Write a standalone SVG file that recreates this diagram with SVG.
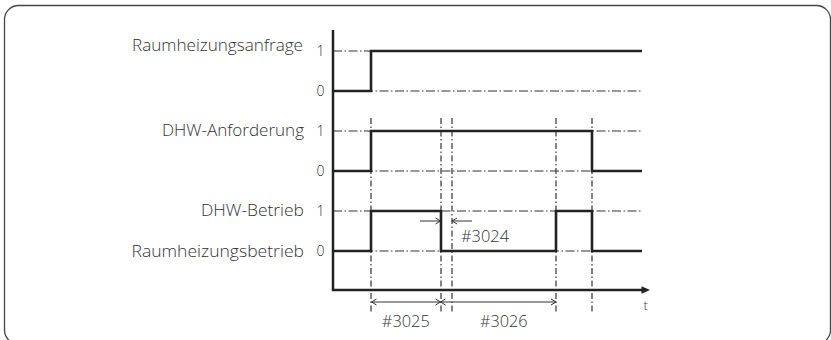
<svg xmlns="http://www.w3.org/2000/svg" width="831" height="340" viewBox="0 0 831 340">
  <defs>
    <marker id="chev" viewBox="-6 -4 8 8" markerWidth="8" markerHeight="8" refX="0" refY="0" orient="auto-start-reverse" markerUnits="userSpaceOnUse">
      <path d="M-5,-3 L0,0 L-5,3" fill="none" stroke="#333" stroke-width="1"/>
    </marker>
  </defs>
  <style>
    .frame { fill: #fff; stroke: #444; stroke-width: 1.3; }
    .lbl { font-family: "Open Sans", "Liberation Sans", Arial, sans-serif; font-size: 16px; font-weight: 300; fill: #333; }
    .dig { font-family: "Open Sans", "Liberation Sans", Arial, sans-serif; font-size: 14px; font-weight: 300; fill: #333; text-anchor: middle; }
    .grid { stroke: #333; stroke-width: 1.1; fill: none; stroke-dasharray: 9 2.5 1.5 2.5; }
    .vgrid { stroke: #333; stroke-width: 1.2; fill: none; stroke-dasharray: 6 2.5 1.5 2.5; }
    .sig { stroke: #222; stroke-width: 2.6; fill: none; stroke-linejoin: miter; }
    .axis { stroke: #222; stroke-width: 2.5; fill: none; }
    .dim { stroke: #333; stroke-width: 1; fill: none; }
  </style>

  <rect class="frame" x="4.5" y="5.5" width="826" height="338.5" rx="14" ry="14"/>

  <g id="grid">
    <path class="grid" d="M333,51 H642 M333,91 H642 M333,131 H642 M333,171 H642 M333,211 H642 M333,251 H642"/>
    <path class="vgrid" d="M371,118 V312 M441,118 V312 M452,118 V312 M556,118 V312 M592,118 V312"/>
  </g>

  <g id="axes">
    <path class="axis" d="M333,30 V290 H643"/>
    <polygon points="641.5,286.3 650,290 641.5,293.7" fill="#222"/>
    <text class="dig" x="645.8" y="309.5" style="font-size:13px">t</text>
  </g>

  <g id="raumheizungsanfrage">
    <text class="lbl" x="303" y="50.5" text-anchor="end" textLength="171" lengthAdjust="spacingAndGlyphs">Raumheizungsanfrage</text>
    <text class="dig" x="320.5" y="56">1</text>
    <text class="dig" x="320.5" y="96">0</text>
    <path class="sig" d="M333,91 H371 V51 H642"/>
  </g>

  <g id="dhw-anforderung">
    <text class="lbl" x="304" y="135.5" text-anchor="end" textLength="142" lengthAdjust="spacingAndGlyphs">DHW-Anforderung</text>
    <text class="dig" x="320.5" y="136">1</text>
    <text class="dig" x="320.5" y="176">0</text>
    <path class="sig" d="M333,171 H371 V131 H592 V171 H642"/>
  </g>

  <g id="dhw-betrieb">
    <text class="lbl" x="304" y="215.5" text-anchor="end" textLength="103" lengthAdjust="spacingAndGlyphs">DHW-Betrieb</text>
    <text class="lbl" x="304" y="256.5" text-anchor="end" textLength="172.5" lengthAdjust="spacingAndGlyphs">Raumheizungsbetrieb</text>
    <text class="dig" x="320.5" y="216">1</text>
    <text class="dig" x="320.5" y="256">0</text>
    <path class="sig" d="M333,251 H371 V211 H441 V251 H556 V211 H592 V251 H642"/>
  </g>

  <g id="connectors">
    <path class="dim" d="M420,221 H440.5" marker-end="url(#chev)"/>
    <path class="dim" d="M452,221 H472" marker-start="url(#chev)"/>
    <path class="dim" d="M371.5,302 H440.5" marker-start="url(#chev)" marker-end="url(#chev)"/>
    <path class="dim" d="M440.5,302 H556" marker-start="url(#chev)" marker-end="url(#chev)"/>
  </g>

  <g id="labels">
    <text class="lbl" x="485" y="242" text-anchor="middle" textLength="48" lengthAdjust="spacingAndGlyphs">#3024</text>
    <text class="lbl" x="405.8" y="326.7" text-anchor="middle" textLength="48" lengthAdjust="spacingAndGlyphs">#3025</text>
    <text class="lbl" x="503.7" y="326.7" text-anchor="middle" textLength="47.5" lengthAdjust="spacingAndGlyphs">#3026</text>
  </g>
</svg>
